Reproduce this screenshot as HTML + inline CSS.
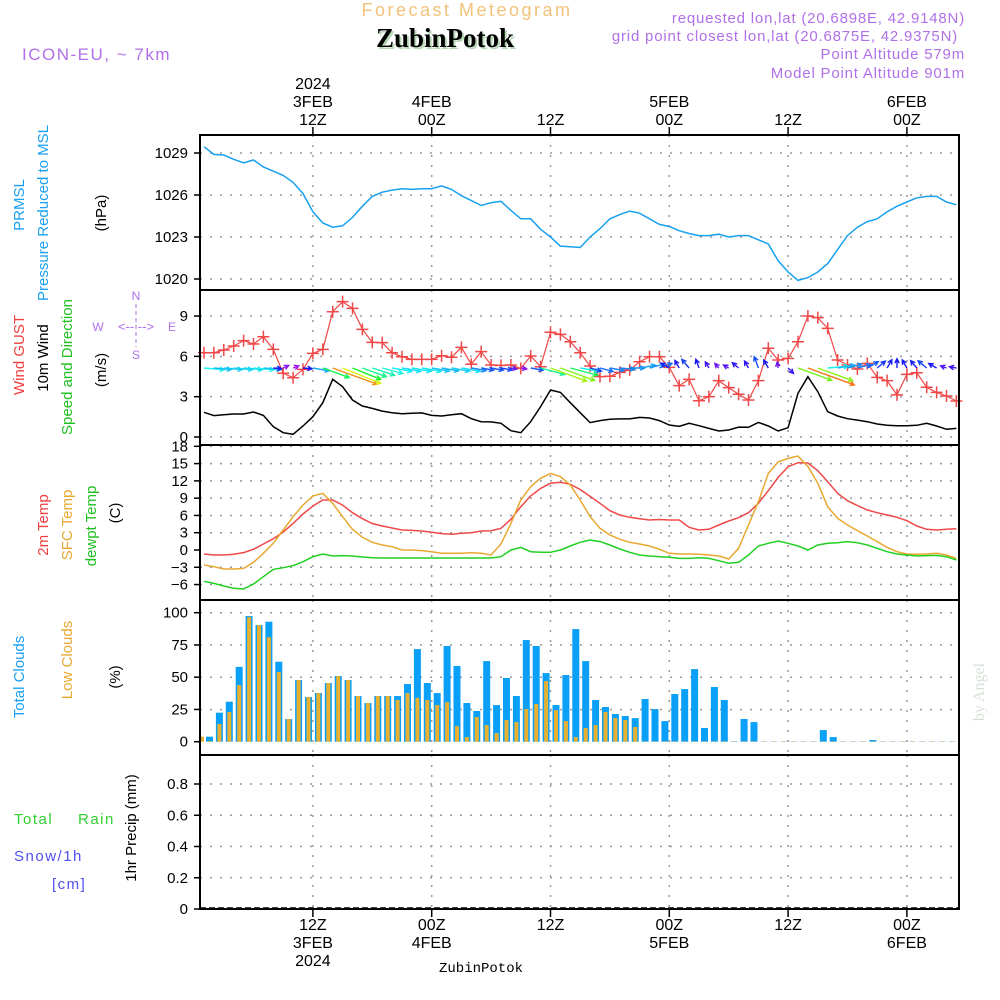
<!DOCTYPE html>
<html><head><meta charset="utf-8"><style>
html,body{margin:0;padding:0;background:#fff;}
svg{display:block;font-family:"Liberation Sans",sans-serif;}
</style></head><body>
<svg id="chart" width="1000" height="1000" viewBox="0 0 1000 1000" xmlns="http://www.w3.org/2000/svg">
<rect width="1000" height="1000" fill="#fff"/>
<!-- header -->
<text x="467" y="16" text-anchor="middle" font-size="18" fill="#f2c27a" letter-spacing="2.5">Forecast Meteogram</text>
<text x="447" y="49" text-anchor="middle" font-family="Liberation Serif, serif" font-weight="bold" font-size="27" fill="#b8d8b8">ZubinPotok</text>
<text x="445" y="47" text-anchor="middle" font-family="Liberation Serif, serif" font-weight="bold" font-size="27" fill="#000">ZubinPotok</text>
<text x="22" y="60" font-size="17" fill="#b070e8" letter-spacing="1.5">ICON-EU, ~ 7km</text>
<g font-size="15" fill="#b070e8" text-anchor="end" letter-spacing="0.8">
<text x="965" y="23">requested lon,lat (20.6898E, 42.9148N)</text>
<text x="958" y="41">grid point closest lon,lat (20.6875E, 42.9375N)</text>
<text x="965" y="59">Point Altitude 579m</text>
<text x="965" y="78">Model Point Altitude 901m</text>
</g>
<!-- left axis titles -->
<g font-size="15">
<text transform="translate(24,205) rotate(-90)" text-anchor="middle" fill="#1aa0f0">PRMSL</text>
<text transform="translate(48,213) rotate(-90)" text-anchor="middle" fill="#1aa0f0">Pressure Reduced to MSL</text>
<text transform="translate(106,213) rotate(-90)" text-anchor="middle" fill="#000">(hPa)</text>
<text transform="translate(24,355) rotate(-90)" text-anchor="middle" fill="#f04040">Wind GUST</text>
<text transform="translate(48,358) rotate(-90)" text-anchor="middle" fill="#000">10m Wind</text>
<text transform="translate(72,367) rotate(-90)" text-anchor="middle" fill="#20c020">Speed and Direction</text>
<text transform="translate(106,370) rotate(-90)" text-anchor="middle" fill="#000">(m/s)</text>
<text transform="translate(48,525) rotate(-90)" text-anchor="middle" fill="#f04040">2m Temp</text>
<text transform="translate(72,525) rotate(-90)" text-anchor="middle" fill="#e8a830">SFC Temp</text>
<text transform="translate(96,526) rotate(-90)" text-anchor="middle" fill="#20c020">dewpt Temp</text>
<text transform="translate(120,513) rotate(-90)" text-anchor="middle" fill="#000">(C)</text>
<text transform="translate(24,677) rotate(-90)" text-anchor="middle" fill="#1aa0f0">Total Clouds</text>
<text transform="translate(72,660) rotate(-90)" text-anchor="middle" fill="#e8a830">Low Clouds</text>
<text transform="translate(120,677) rotate(-90)" text-anchor="middle" fill="#000">(%)</text>
<text transform="translate(136,828) rotate(-90)" text-anchor="middle" fill="#000">1hr Precip (mm)</text>
</g>
<g font-size="15" letter-spacing="1.5">
<text x="14" y="824" fill="#30d030">Total</text>
<text x="78" y="824" fill="#30d030">Rain</text>
<text x="14" y="861" fill="#5050f0">Snow/1h</text>
<text x="52" y="889" fill="#5050f0">[cm]</text>
</g>
<!-- compass -->
<g font-size="12" fill="#b070e8" stroke="none">
<text x="136" y="300" text-anchor="middle">N</text>
<text x="136" y="359" text-anchor="middle">S</text>
<text x="98" y="331" text-anchor="middle">W</text>
<text x="172" y="331" text-anchor="middle">E</text>
<text x="136" y="331" text-anchor="middle" font-size="13">&lt;-- --&gt;</text>
<line x1="136" y1="304" x2="136" y2="347" stroke="#b070e8" stroke-dasharray="4,3"/>
</g>
<g id="grid"></g>
<g id="marks"></g>
<g id="frame"></g>
<g id="ticks" font-size="15" fill="#000"></g>
<text x="481" y="972" text-anchor="middle" font-family="Liberation Mono, monospace" font-size="14" fill="#000">ZubinPotok</text>
<text transform="translate(984,692) rotate(-90)" text-anchor="middle" font-family="Liberation Serif, serif" font-size="16" fill="#d8e0d8">by Angel</text>
</svg>
<script>
const pressure=[1029.45,1028.9,1028.86,1028.55,1028.3,1028.5,1028.0,1027.7,1027.4,1026.9,1026.1,1024.8,1024.0,1023.7,1023.8,1024.4,1025.2,1025.9,1026.2,1026.35,1026.45,1026.4,1026.45,1026.45,1026.65,1026.4,1025.95,1025.6,1025.25,1025.45,1025.55,1024.9,1024.3,1024.3,1023.55,1023.0,1022.35,1022.3,1022.25,1023.0,1023.6,1024.3,1024.6,1024.85,1024.7,1024.3,1023.9,1023.75,1023.45,1023.25,1023.1,1023.1,1023.2,1023.0,1023.1,1023.1,1022.8,1022.5,1021.3,1020.5,1019.9,1020.1,1020.5,1021.1,1022.1,1023.1,1023.7,1024.1,1024.3,1024.8,1025.2,1025.5,1025.8,1025.9,1025.9,1025.5,1025.3];
const windSpeed=[1.84,1.59,1.66,1.71,1.71,1.86,1.61,0.77,0.32,0.2,0.82,1.51,2.55,4.29,3.74,2.75,2.31,2.13,1.93,1.81,1.73,1.76,1.79,1.61,1.56,1.66,1.73,1.36,1.14,1.12,1.02,0.47,0.32,1.14,2.26,3.5,3.32,2.55,1.81,1.07,1.22,1.32,1.35,1.35,1.46,1.41,1.22,0.89,0.79,1.02,0.84,0.64,0.45,0.52,0.74,0.72,1.09,0.82,0.45,0.69,3.25,4.49,3.37,1.88,1.56,1.36,1.26,1.14,0.97,0.87,0.84,0.84,0.87,1.02,0.82,0.57,0.64];
const windGust=[6.27,6.27,6.47,6.77,7.17,6.92,7.46,6.52,4.74,4.41,5.03,6.22,6.52,9.32,10.07,9.57,8.01,7.04,7.02,6.27,5.97,5.78,5.78,5.78,6.05,5.93,6.67,5.41,6.35,5.36,5.33,5.36,5.11,6.03,5.23,7.79,7.64,7.09,6.27,5.28,4.49,4.52,4.81,4.99,5.6,5.97,5.97,5.18,3.82,4.29,2.7,3.0,4.19,3.67,3.18,2.75,4.19,6.6,5.73,5.85,7.09,9.0,8.88,8.08,5.73,5.36,5.06,5.48,4.44,4.19,3.13,4.66,4.78,3.7,3.32,3.05,2.68];
const windDir=[5,5,5,5,5,5,5,5,-25,-20,5,10,20,20,22,22,20,18,15,10,10,10,10,10,10,10,10,10,10,10,10,10,10,10,15,20,20,15,10,15,15,10,5,0,-10,-15,-20,-150,-120,-130,-110,-120,-130,-150,-140,-120,-110,-120,-100,45,20,20,20,-5,-10,-15,-15,-30,-40,-60,-90,-120,-130,-140,-150,-160,-170];
const temp2m=[-0.7,-0.87,-0.87,-0.75,-0.46,0.12,1.04,1.97,3.1,4.6,6.25,7.64,8.68,8.68,7.8,6.48,5.44,4.6,4.17,3.82,3.47,3.4,3.3,3.07,2.84,2.72,2.9,3.0,3.3,3.35,3.76,5.33,7.52,9.4,10.7,11.6,11.75,11.4,10.5,9.3,8.1,6.83,6.08,5.67,5.44,5.2,5.3,5.2,5.2,3.94,3.47,3.6,4.34,5.03,5.6,6.48,8.1,10.3,12.6,14.46,15.16,15.1,13.77,11.86,9.84,8.56,7.7,6.94,6.48,6.08,5.67,5.09,4.17,3.6,3.47,3.6,3.68];
const tempSfc=[-2.6,-2.9,-3.3,-3.3,-3.2,-2.14,-0.58,1.16,3.47,5.78,7.8,9.37,9.84,8.1,5.78,3.6,2.2,1.33,0.87,0.58,0,0,-0.1,-0.29,-0.58,-0.58,-0.58,-0.46,-0.58,-0.87,1.04,4.6,8.68,10.99,12.44,13.3,12.73,11.28,8.68,5.8,3.76,2.6,1.85,1.33,1.04,0.69,0.12,-0.58,-0.7,-0.7,-0.75,-0.87,-1.04,-1.56,0.29,4.34,8.4,13.3,15.3,15.9,16.3,14.5,11.6,7.5,5.5,4.34,3.36,2.43,1.45,0.46,-0.29,-0.7,-0.75,-0.7,-0.58,-0.87,-1.45];
const dewpt=[-5.44,-5.8,-6.25,-6.65,-6.77,-5.9,-4.63,-3.36,-3.07,-2.72,-2.03,-1.16,-0.7,-1.04,-0.98,-1.04,-1.22,-1.33,-1.39,-1.39,-1.39,-1.39,-1.39,-1.39,-1.39,-1.39,-1.39,-1.39,-1.39,-1.39,-1.16,0,0.46,-0.29,-0.4,-0.4,0,0.69,1.33,1.74,1.45,0.87,0.17,-0.4,-0.87,-1.04,-1.16,-1.27,-1.45,-1.45,-1.33,-1.45,-1.85,-2.31,-2.14,-0.87,0.69,1.16,1.56,1.16,0.69,0,0.87,1.16,1.27,1.45,1.27,0.87,0.29,-0.29,-0.7,-0.87,-1.04,-0.98,-0.93,-1.16,-1.74];
const totalClouds=[3.9,22.5,31,58,97.4,90.4,93,62,17.6,47.8,34.6,37.7,45.5,50.9,47.8,35.4,30,35.4,35.4,35.4,44.7,71.8,45.5,37.7,74.2,58.7,30,23.8,62.5,28.4,49.4,35.4,78.8,74.2,53.2,28.4,51.7,87.3,62.5,32.3,26.9,21.4,19.9,18.3,33.1,25.3,16,37,40.8,56.3,10.6,42.4,32.3,0.3,17.6,15.2,0.2,0.2,0.2,0.2,0.2,0.2,9,3.6,0.2,0.2,0.2,1.3,0.2,0.2,0.2,0.2,0.2,0.2,0.2,0.2];
const lowClouds=[0.5,13.7,23,43.9,96.6,90.4,81,54,17.6,47.8,34.6,37.7,45.5,50.9,47.8,35.4,30,35.4,35.4,32.3,37.7,33.9,32.3,28.4,30.7,12.1,3.6,19.1,12.9,6.7,16.8,15.2,25.3,29.2,47,24.5,16,3.6,10.6,12.9,23,18.3,16.8,11.4,0.3,0.3,0.3,0.3,0.3,0.3,0.3,0.3,0.3,0.3,0.3,0.3,0.3,0.3,0.3,0.3,0.3,0.3,0.3,0.3,0.3,0.3,0.3,0.3,0.3,0.3,0.3,0.3,0.3,0.3,0.3,0.3];
const precip=[];
const pressTicks=[1020,1023,1026,1029];
const windTicks=[0,3,6,9];
const tempTicks=[-6,-3,0,3,6,9,12,15,18];
const cloudTicks=[0,25,50,75,100];
const precipTicks=[0,0.2,0.4,0.6,0.8];
const timeTickIdx=[11,23,35,47,59,71];
const timeHour=["12Z","00Z","12Z","00Z","12Z","00Z"];
const timeDay=["3FEB","4FEB","","5FEB","","6FEB"];
const timeYear=["2024","","","","",""];

const NS="http://www.w3.org/2000/svg";
const L=200,R=959;
function X(i){return 204+9.9*i;}
function XB(j){return 209.5+9.9*j;}
const yP=v=>153+(1029-v)*14;
const yW=v=>437-v*13.44;
const yT=v=>550-v*5.76;
const yC=v=>741.7-v*1.29;
const yR=v=>909-v*156.25;
function el(tag,attrs,parent){const e=document.createElementNS(NS,tag);for(const k in attrs)e.setAttribute(k,attrs[k]);parent.appendChild(e);return e;}
const grid=document.getElementById('grid'),marks=document.getElementById('marks'),frame=document.getElementById('frame'),ticks=document.getElementById('ticks');
const panels=[[135,290,pressTicks,yP,v=>String(v)],[290,445,windTicks,yW,v=>String(v)],[445,600,tempTicks,yT,v=>String(v).replace('-','−')],[600,755,cloudTicks,yC,v=>String(v)],[755,909,precipTicks,yR,v=>String(v)]];
panels.forEach((p,pi)=>{
  p[2].forEach(v=>{
    const y=p[3](v);
    if(v!==0||pi<2){const g=el('line',{x1:L,x2:R,y1:y,y2:y,stroke:'#999','stroke-dasharray':'2,8','stroke-width':1.5},grid);
    
    }
    const t=el('line',{x1:L-6,x2:L,y1:y,y2:y,stroke:'#000','stroke-width':1.5},ticks);
    
    
    const tx=el('text',{x:L-12,y:y+5,'text-anchor':'end'},ticks);
    tx.textContent=p[4](v);
    
    
  });
  timeTickIdx.forEach(i=>{
    const g=el('line',{x1:X(i),x2:X(i),y1:p[0],y2:p[1],stroke:'#999','stroke-dasharray':'2,8','stroke-width':1.5},grid);
    
    
  });
  const b=el('rect',{x:L,y:p[0],width:R-L,height:p[1]-p[0],fill:'none',stroke:'#000','stroke-width':2},frame);
  
  
});
timeTickIdx.forEach((i,k)=>{
  const x=X(i);
  [[135,127],[909,917]].forEach(([a,c])=>{const t=el('line',{x1:x,x2:x,y1:a,y2:c,stroke:'#000','stroke-width':1.5},ticks);
  
  });
  const lines=[timeYear[k],timeDay[k],timeHour[k]].filter(s=>s);
  lines.forEach((s,n)=>{const t=el('text',{x:x,y:125-(lines.length-1-n)*18,'text-anchor':'middle','font-size':16},ticks);t.textContent=s;
  
  });
  [timeHour[k],timeDay[k],timeYear[k]].filter(s=>s).forEach((s,n)=>{const t=el('text',{x:x,y:930+n*18,'text-anchor':'middle','font-size':16},ticks);t.textContent=s;
  
  });
});
function line(arr,yf,color,name,w){
  const d=arr.map((v,i)=>(i?'L':'M')+X(i).toFixed(1)+','+yf(v).toFixed(1)).join('');
  const p=el('path',{d:d,fill:'none',stroke:color,'stroke-width':w||1.5},marks);
  
  
}
line(pressure,yP,'#18a0f0','pressure-line');
line(windSpeed,yW,'#000','wind-speed-line');
line(windGust,yW,'#f04848','wind-gust-line',1.2);
windGust.forEach((v,i)=>{
  const x=X(i),y=yW(v);
  const s=el('path',{d:`M${x-6},${y}H${x+6}M${x},${y-6}V${y+6}`,stroke:'#f04848','stroke-width':1.5,fill:'none'},marks);
  
  
});
windSpeed.forEach((v,i)=>{
  const ang=windDir[i]*Math.PI/180,len=Math.max(6,v*11);
  const x0=X(i),y0=368,x1=x0+len*Math.cos(ang),y1=y0+len*Math.sin(ang);
  const hue=Math.max(25,290-v*60);
  const c=`hsl(${hue},90%,52%)`;
  const h1=ang+Math.PI*0.85,h2=ang-Math.PI*0.85;
  const a=el('path',{d:`M${x0},${y0}L${x1},${y1}M${x1+5*Math.cos(h1)},${y1+5*Math.sin(h1)}L${x1},${y1}L${x1+5*Math.cos(h2)},${y1+5*Math.sin(h2)}`,stroke:c,'stroke-width':1.4,fill:'none'},marks);
  
  
});
line(temp2m,yT,'#f04848','temp-2m-line');
line(tempSfc,yT,'#e8a830','sfc-temp-line');
line(dewpt,yT,'#20d020','dewpt-line');
totalClouds.forEach((v,j)=>{
  const x=XB(j);
  const b=el('rect',{x:x-3.5,y:yC(v),width:7,height:yC(0)-yC(v),fill:'#0aa0f8'},marks);
  
  
});
lowClouds.forEach((v,j)=>{
  const x=XB(j);
  const b=el('rect',{x:x-2,y:yC(v),width:4,height:yC(0)-yC(v),fill:'#e8b030'},marks);
  
  
});
const partial=el('rect',{x:201,y:yC(3.9),width:3,height:yC(0)-yC(3.9),fill:'#e8b030'},marks);


const zl=el('line',{x1:L,x2:R,y1:908,y2:908,stroke:'#000','stroke-dasharray':'6,3','stroke-width':1.5},marks);


</script>
</body></html>
